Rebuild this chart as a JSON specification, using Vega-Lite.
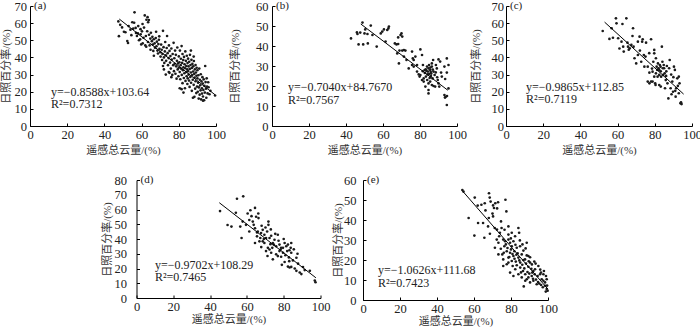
{
  "$schema": "https://vega.github.io/schema/vega-lite/v6.json",
  "padding": {"left": 0, "top": 0, "right": 0, "bottom": 0},
  "background": "white",
  "config": {
    "view": {"stroke": null},
    "axis": {
      "grid": false,
      "domainColor": "#000",
      "domainWidth": 1,
      "tickColor": "#000",
      "tickSize": -3,
      "labelPadding": 5,
      "labelOverlap": false,
      "labelFlush": false,
      "tickCount": 20,
      "labelFont": "Liberation Serif",
      "labelFontSize": 12.5,
      "labelColor": "#222",
      "titleFont": "Liberation Serif, Noto Sans CJK SC",
      "titleFontSize": 11,
      "titleFontWeight": "normal",
      "titleColor": "#333"
    }
  },
  "datasets": {
    "a": [
      {"x":47.5,"y":61},{"x":47.8,"y":52.4},{"x":48.5,"y":59},{"x":49.5,"y":57.5},{"x":50.5,"y":55},{"x":51.3,"y":54.7},{"x":52.3,"y":49.6},{"x":52.7,"y":48.4},{"x":53,"y":58.3},{"x":54,"y":56.2},{"x":54.5,"y":53},{"x":55,"y":60.5},
      {"x":55.5,"y":56.8},{"x":56.2,"y":66.3},{"x":56,"y":60.2},{"x":56.8,"y":57.2},{"x":57,"y":54.3},{"x":57.5,"y":52.5},{"x":58,"y":54},{"x":58.2,"y":58.3},{"x":58.6,"y":50},{"x":59.2,"y":50.6},{"x":59.4,"y":56.5},{"x":59.8,"y":47.6},{"x":59.5,"y":53.5},
      {"x":60.2,"y":55.2},{"x":60.5,"y":59.5},{"x":60.6,"y":48.2},{"x":61,"y":51.5},{"x":61.3,"y":57.4},{"x":61.7,"y":64.5},{"x":62,"y":47},{"x":62.3,"y":52.5},{"x":62.6,"y":62},{"x":63.2,"y":63.5},{"x":63.5,"y":60.5},{"x":63.9,"y":61.8},{"x":63,"y":55.3},{"x":63.4,"y":49},{"x":64,"y":53.2},{"x":64.3,"y":47},{"x":64.7,"y":51},{"x":65,"y":54.4},{"x":64.8,"y":44.5},{"x":62.5,"y":46.2},
      {"x":65.5,"y":49.5},{"x":65.8,"y":52},{"x":66,"y":47.5},{"x":66.3,"y":43.8},{"x":66.5,"y":50.6},{"x":67,"y":48.2},{"x":67.2,"y":45.7},{"x":67.6,"y":51.3},{"x":68,"y":46.5},{"x":68.2,"y":49.2},{"x":68.5,"y":44},{"x":68.8,"y":42.3},{"x":69,"y":47.8},{"x":69.3,"y":50.3},{"x":69.6,"y":45},{"x":70,"y":43},{"x":70.2,"y":40.5},{"x":66.6,"y":41},{"x":67.8,"y":55},{"x":69.5,"y":52.3},
      {"x":70.5,"y":47.5},{"x":70.8,"y":44.5},{"x":71,"y":38.5},{"x":71.2,"y":42},{"x":71.5,"y":55.5},{"x":71.8,"y":46},{"x":72,"y":40},{"x":72.2,"y":36.8},{"x":72.5,"y":43.5},{"x":72.7,"y":49},{"x":73,"y":41.2},{"x":73.2,"y":38},{"x":73.5,"y":45.5},{"x":73.7,"y":52.5},{"x":74,"y":42.5},{"x":74.2,"y":35.5},{"x":74.5,"y":39.6},{"x":74.7,"y":47},{"x":75,"y":43.8},{"x":72,"y":33},{"x":73,"y":30},{"x":74.6,"y":31.5},{"x":71.5,"y":35},
      {"x":75.3,"y":37},{"x":75.5,"y":40.8},{"x":75.7,"y":33.5},{"x":76,"y":45.2},{"x":76.2,"y":38.7},{"x":76.5,"y":29.8},{"x":76.7,"y":42},{"x":77,"y":35.5},{"x":77.2,"y":48.5},{"x":77.4,"y":32},{"x":77.6,"y":39.5},{"x":77.8,"y":36.3},{"x":78,"y":44},{"x":78.2,"y":30.5},{"x":78.4,"y":41.5},{"x":78.6,"y":34.8},{"x":78.8,"y":27.6},{"x":79,"y":38},{"x":79.2,"y":45.8},{"x":79.4,"y":33},{"x":79.6,"y":36.5},{"x":79.8,"y":29},{"x":80,"y":40.6},{"x":80,"y":34},{"x":76,"y":28.5},{"x":75,"y":31},
      {"x":80.3,"y":37.2},{"x":80.5,"y":31.5},{"x":80.6,"y":44},{"x":80.8,"y":27.3},{"x":81,"y":35.5},{"x":81.1,"y":39.2},{"x":81.3,"y":33.4},{"x":81.5,"y":46.6},{"x":81.6,"y":29.8},{"x":81.8,"y":36.8},{"x":82,"y":25},{"x":82,"y":42},{"x":82.2,"y":32.5},{"x":82.4,"y":38.5},{"x":82.5,"y":34.3},{"x":82.7,"y":28},{"x":82.8,"y":40.3},{"x":83,"y":30.8},{"x":83.1,"y":36},{"x":83.3,"y":22},{"x":83.4,"y":33.7},{"x":83.5,"y":43.5},{"x":83.6,"y":26.3},{"x":83.8,"y":38},{"x":84,"y":31.5},{"x":84,"y":35},{"x":84.2,"y":29},{"x":84.3,"y":41},{"x":84.5,"y":33},{"x":84.6,"y":24.5},{"x":84.7,"y":36.7},{"x":84.8,"y":27.8},{"x":85,"y":39.3},{"x":85,"y":32},{"x":80.5,"y":22},{"x":81.5,"y":21.5},{"x":82.5,"y":19.5},
      {"x":85.2,"y":34.8},{"x":85.3,"y":30},{"x":85.5,"y":26.5},{"x":85.6,"y":37.5},{"x":85.8,"y":22.8},{"x":85.9,"y":33.3},{"x":86,"y":41.5},{"x":86.2,"y":28.6},{"x":86.3,"y":35.6},{"x":86.5,"y":31.2},{"x":86.6,"y":25.2},{"x":86.8,"y":38.6},{"x":87,"y":33.9},{"x":87,"y":20.5},{"x":87.2,"y":29.7},{"x":87.3,"y":36.2},{"x":87.5,"y":27},{"x":87.6,"y":16.5},{"x":87.7,"y":31.8},{"x":87.8,"y":34.8},{"x":88,"y":24},{"x":88.1,"y":37.9},{"x":88.3,"y":30.4},{"x":88.4,"y":17},{"x":88.5,"y":28.2},{"x":88.6,"y":33},{"x":88.8,"y":21.8},{"x":89,"y":35.6},{"x":89,"y":26.1},{"x":89.2,"y":31.2},{"x":89.4,"y":19.2},{"x":89.5,"y":29.3},{"x":89.6,"y":34},{"x":89.8,"y":23},{"x":90,"y":27.8},{"x":90,"y":32.5},{"x":86.5,"y":44},{"x":88,"y":40.5},
      {"x":90.2,"y":20},{"x":90.4,"y":25.3},{"x":90.5,"y":29.6},{"x":90.7,"y":16},{"x":90.8,"y":22.5},{"x":91,"y":33.5},{"x":91.2,"y":18.3},{"x":91.3,"y":27},{"x":91.5,"y":23.8},{"x":91.7,"y":20.8},{"x":91.8,"y":30.2},{"x":92,"y":15.5},{"x":92.2,"y":26},{"x":92.4,"y":22},{"x":92.5,"y":18.9},{"x":92.7,"y":28.5},{"x":92.9,"y":24.8},{"x":93,"y":17.2},{"x":93.2,"y":21},{"x":93.4,"y":27.2},{"x":93.6,"y":15},{"x":93.8,"y":23.4},{"x":94,"y":19.5},{"x":94.2,"y":35},{"x":94.4,"y":25.6},{"x":94.6,"y":21.7},{"x":94.8,"y":16.5},{"x":95,"y":27.8},{"x":95.2,"y":23},{"x":95.5,"y":19},{"x":96,"y":22.6},{"x":96.5,"y":18.5},{"x":97,"y":20.5},{"x":99.5,"y":17.8},{"x":95.8,"y":25.5},{"x":93,"y":14.8}
    ],
    "b": [
      {"x":42.7,"y":43.8},{"x":45.9,"y":46.8},{"x":46.2,"y":46},{"x":46.8,"y":40.8},{"x":47.7,"y":46.7},{"x":48.9,"y":51.7},{"x":49.3,"y":40.8},{"x":50,"y":46.3},{"x":50.4,"y":48.3},{"x":51.6,"y":46},{"x":51.8,"y":41.3},{"x":53.4,"y":50.2},{"x":54.3,"y":45.5},{"x":56.6,"y":39.7},{"x":58.8,"y":46.3},{"x":59.6,"y":47.2},{"x":60.5,"y":48.3},{"x":61.4,"y":42.2},{"x":62.9,"y":48.8},{"x":63.2,"y":49.7},{"x":62.3,"y":48},
      {"x":68.2,"y":44.3},{"x":69.5,"y":45.5},{"x":70,"y":46.3},{"x":70.4,"y":44.7},{"x":66.4,"y":41.3},{"x":67.3,"y":40.8},{"x":68.2,"y":41},{"x":68.9,"y":37.7},{"x":70.4,"y":37.7},{"x":71.3,"y":38},{"x":72.1,"y":37.7},{"x":67.7,"y":36.3},{"x":68.6,"y":31.3},{"x":71.3,"y":34.7},{"x":72.7,"y":33},{"x":73.9,"y":28.8},{"x":75.7,"y":37.2},{"x":76.1,"y":33.8},{"x":76.6,"y":33},{"x":77.5,"y":34.7},{"x":78.4,"y":30.5},{"x":79.3,"y":25.8},{"x":80.2,"y":38.3},{"x":81.1,"y":35.5},{"x":81.6,"y":30.5},{"x":82,"y":23.8},{"x":82.5,"y":28},
      {"x":83.8,"y":29.7},{"x":84.3,"y":27.2},{"x":84.6,"y":28.8},{"x":85,"y":26},{"x":85.5,"y":28},{"x":85.9,"y":25},{"x":86.4,"y":29.7},{"x":83.2,"y":24.7},{"x":83.9,"y":23},{"x":84.6,"y":21.3},{"x":85.5,"y":22.2},{"x":86.8,"y":23.8},{"x":87.3,"y":27.2},{"x":87.9,"y":25.5},{"x":86.4,"y":31.3},{"x":87.1,"y":33},{"x":88.6,"y":30.5},{"x":89.1,"y":28.8},{"x":89.6,"y":23},{"x":90,"y":21.3},{"x":90.4,"y":19.7},{"x":90.9,"y":32.2},{"x":91.4,"y":26.7},{"x":91.8,"y":24.7},{"x":93.2,"y":29.7},{"x":94.5,"y":26.7},{"x":95.4,"y":30.5},
      {"x":84.6,"y":18},{"x":84.6,"y":16.3},{"x":86.4,"y":20.5},{"x":87.3,"y":20},{"x":88.2,"y":19.7},{"x":90,"y":33.3},{"x":94.5,"y":33.8},{"x":93.2,"y":15.5},{"x":93.8,"y":14.5},{"x":94.6,"y":15},{"x":93.5,"y":14.2},{"x":94.5,"y":10.5},{"x":95.4,"y":18.8},{"x":93.6,"y":23.5},
      {"x":75.7,"y":30.5},{"x":76.6,"y":29.7},{"x":78.4,"y":27.2},{"x":80.2,"y":25.5},{"x":81.1,"y":23},{"x":82,"y":22.2},{"x":82.9,"y":19.7},{"x":79.8,"y":24.7},
      {"x":83.5,"y":27.5},{"x":84.1,"y":25.8},{"x":85.2,"y":24},{"x":85.8,"y":27},{"x":86.1,"y":26.2},{"x":84.9,"y":30.5},{"x":83.1,"y":28.3},{"x":82.6,"y":26.5},{"x":85.6,"y":29.2},{"x":86.9,"y":28.2},{"x":88.5,"y":26.8},{"x":89.3,"y":24.4},{"x":81.5,"y":27.4}
    ],
    "c": [
      {"x":52,"y":55.4},{"x":55.6,"y":50.8},{"x":56.8,"y":57},{"x":59.1,"y":62.8},{"x":59.4,"y":59.9},{"x":60.3,"y":51.2},{"x":62.1,"y":49.2},{"x":62.6,"y":59.5},{"x":63,"y":46.3},{"x":63.3,"y":43.4},{"x":64.7,"y":62.8},{"x":65.3,"y":48.6},{"x":65.6,"y":46.3},{"x":66.5,"y":45.3},{"x":67.4,"y":47.3},{"x":68,"y":52.5},{"x":68.3,"y":57},{"x":68.6,"y":46.3},{"x":69.1,"y":39.5},{"x":70.9,"y":49.2},{"x":70.9,"y":41.4},{"x":71.8,"y":52.1},{"x":72.7,"y":37.5},{"x":73.2,"y":49.2},{"x":73.5,"y":50.6},{"x":74.1,"y":41.4},{"x":74.4,"y":34.6},{"x":75.3,"y":48.6},{"x":76.2,"y":34.6},{"x":77.1,"y":31.1},{"x":78,"y":50.6},{"x":78.5,"y":33.5},{"x":78.8,"y":25.9},{"x":79.2,"y":37.5},{"x":79.7,"y":44.4},{"x":79.7,"y":42.4},{"x":80.2,"y":24.9},{"x":80.6,"y":39.5},{"x":81,"y":34.6},{"x":81.5,"y":28.8},{"x":82,"y":33.7},{"x":82.4,"y":32.7},{"x":82.7,"y":35.6},{"x":83.2,"y":31.9},{"x":83.8,"y":46.3},{"x":84.1,"y":37.5},{"x":84.5,"y":29.8},{"x":85,"y":33.7},{"x":85.5,"y":22},{"x":85.9,"y":26.8},{"x":86.2,"y":31.9},{"x":86.8,"y":24.9},{"x":87.3,"y":16.1},{"x":87.7,"y":33.7},{"x":88,"y":38.5},{"x":88.5,"y":22},{"x":89.4,"y":25.9},{"x":89.8,"y":20},{"x":90.3,"y":34.6},{"x":90.8,"y":32.7},{"x":91.2,"y":17.1},{"x":92.1,"y":27.8},{"x":92.9,"y":19.1},{"x":93.8,"y":13.2},{"x":94.4,"y":12.8},{"x":94.1,"y":13.8},
      {"x":80.6,"y":30.7},{"x":81.3,"y":32.7},{"x":81.7,"y":36.5},{"x":82.4,"y":29.8},{"x":83.1,"y":34.6},{"x":83.4,"y":28.8},{"x":84.3,"y":33.7},{"x":84.8,"y":35.6},{"x":85.3,"y":30.7},{"x":86.1,"y":29.2},{"x":80.4,"y":23.9},{"x":79.7,"y":28.8},{"x":78.8,"y":31.7},{"x":76.2,"y":25.9},{"x":77.1,"y":24.9},{"x":78,"y":25.9},{"x":91.5,"y":22},{"x":92.4,"y":23.4},{"x":93.3,"y":24.9},{"x":92.9,"y":28.8},{"x":82.4,"y":23.9},{"x":83.2,"y":23},{"x":66,"y":44.5},{"x":70,"y":36.5},{"x":72,"y":44},{"x":75,"y":40.5},{"x":77,"y":42.5},{"x":61,"y":45.2},{"x":57.5,"y":51.5},{"x":86.5,"y":35},{"x":88.8,"y":30},{"x":90,"y":28.5},{"x":91,"y":20.5},{"x":89,"y":18.5}
    ],
    "d": [
      {"x":45.4,"y":58.9},{"x":54.6,"y":67.3},{"x":58,"y":68.9},{"x":54,"y":57.8},{"x":49.5,"y":49.5},{"x":51.6,"y":48.4},{"x":57.7,"y":51.8},{"x":57.1,"y":40.7},{"x":60.4,"y":57.3},{"x":61.9,"y":59.5},{"x":64.4,"y":61.1},{"x":65,"y":55.1},{"x":66.2,"y":57.3},{"x":63.2,"y":51.8},{"x":63.7,"y":49.6},{"x":64.4,"y":47.3},{"x":61.3,"y":45.1},{"x":65.9,"y":45.1},{"x":67.7,"y":44},{"x":68.6,"y":46.2},{"x":65.5,"y":41.8},{"x":66.8,"y":38.4},{"x":64.4,"y":37.3},{"x":69.5,"y":42.9},{"x":71.7,"y":51.8},{"x":71.7,"y":49.6},{"x":70.4,"y":40.7},{"x":72.3,"y":40.7},{"x":73.2,"y":42.2},{"x":74.1,"y":37.3},{"x":74.6,"y":36.2},{"x":71.4,"y":34},{"x":70.4,"y":31.8},{"x":72.3,"y":32.9},{"x":76.8,"y":42.9},{"x":75.9,"y":35.1},{"x":77.7,"y":36.2},{"x":78.3,"y":32.9},{"x":78.6,"y":34},{"x":79.6,"y":30.7},{"x":80.5,"y":37.3},{"x":81.4,"y":35.1},{"x":82.3,"y":36.2},{"x":81.9,"y":31.8},{"x":83.1,"y":32.4},{"x":83.8,"y":34},{"x":84.1,"y":37.3},{"x":84.1,"y":30.7},{"x":86.9,"y":27.3},{"x":80.5,"y":24.4},{"x":82.3,"y":21.3},{"x":83.2,"y":20.7},{"x":84.1,"y":21.1},{"x":86,"y":20},{"x":86.9,"y":18.4},{"x":88.7,"y":17.3},{"x":89.6,"y":16.2},{"x":94.2,"y":18.4},{"x":96.9,"y":11.8},{"x":97.3,"y":10.7},{"x":74.1,"y":26.2},{"x":75.9,"y":29.6},{"x":76.8,"y":28.4},{"x":77.7,"y":31.8},{"x":78.6,"y":28},{"x":73.2,"y":30.7},{"x":69.5,"y":37.3},{"x":68.6,"y":38.4},{"x":67.3,"y":40.7},{"x":65.5,"y":44.4},
      {"x":59.5,"y":49.6},{"x":56.4,"y":48.4},{"x":61.3,"y":52.9},{"x":71,"y":45.1},{"x":75,"y":39.5},{"x":79.6,"y":34},{"x":80.9,"y":29},{"x":85,"y":25.5},{"x":87.8,"y":23.3},{"x":90.5,"y":21},{"x":91.4,"y":18.9},{"x":66.3,"y":54.2},{"x":62.5,"y":55.5},{"x":68,"y":49},{"x":70.1,"y":47.8},{"x":73,"y":46.5},{"x":75.4,"y":43.5},{"x":72.8,"y":36.5},{"x":77.2,"y":38.8},{"x":80,"y":40},{"x":82.8,"y":27.5},{"x":85.5,"y":33},{"x":87.5,"y":30},{"x":83,"y":25},{"x":79,"y":22.5},{"x":71.2,"y":28.5},{"x":67.8,"y":34.5},{"x":69.2,"y":40},{"x":73.8,"y":34}
    ],
    "e": [
      {"x":53.7,"y":55},{"x":54.3,"y":54.2},{"x":60.4,"y":51.2},{"x":64,"y":47.6},{"x":65.8,"y":48.4},{"x":68.1,"y":53.4},{"x":68.5,"y":51.2},{"x":69,"y":49.2},{"x":70.3,"y":47.3},{"x":70.8,"y":46},{"x":71.5,"y":48.4},{"x":73,"y":48.9},{"x":77,"y":50.1},{"x":77.5,"y":44.3},{"x":57.1,"y":41},{"x":62.2,"y":38.5},{"x":64.9,"y":38.5},{"x":67.6,"y":36.8},{"x":68,"y":41},{"x":70.3,"y":41.8},{"x":71.2,"y":36},{"x":60.2,"y":32.2},{"x":65.6,"y":31.1},{"x":68.6,"y":33.1},{"x":73.6,"y":31.9},{"x":74,"y":33.6},{"x":74.9,"y":36},{"x":75.8,"y":30.2},{"x":76.4,"y":26.9},{"x":74.6,"y":39.3},{"x":78.6,"y":36.8},{"x":78.6,"y":32.7},{"x":80.4,"y":33.6},{"x":84,"y":36},{"x":84.4,"y":33.6},{"x":88.5,"y":28.6},{"x":80.4,"y":26.9},{"x":77.7,"y":24.4},{"x":79.5,"y":23.6},{"x":81.8,"y":24.4},{"x":83.1,"y":26.1},{"x":84.9,"y":26.9},{"x":75.3,"y":22.8},{"x":75.8,"y":20.3},{"x":78.6,"y":21.2},{"x":81.3,"y":22},{"x":82.6,"y":19.2},{"x":84,"y":21.2},{"x":85.8,"y":22.8},{"x":87.6,"y":20.3},{"x":89.4,"y":22},{"x":90.3,"y":18.7},{"x":92.6,"y":19.2},{"x":93.3,"y":18.2},{"x":80.9,"y":17},{"x":82.3,"y":15.4},{"x":85,"y":16.2},{"x":86.5,"y":14.5},{"x":87.7,"y":12.9},{"x":79.5,"y":13.7},{"x":81.3,"y":12},{"x":84,"y":12.9},{"x":85.8,"y":11.3},{"x":88.5,"y":10.4},{"x":91.2,"y":12},{"x":92.1,"y":14.5},{"x":93,"y":15.4},{"x":94.8,"y":17},{"x":95.7,"y":12.9},{"x":96.6,"y":10.4},{"x":97.5,"y":9.6},{"x":98.4,"y":8.8},{"x":99.3,"y":10.4},{"x":98.4,"y":7.1},{"x":99.3,"y":5.5},{"x":99.8,"y":4.6},{"x":93.9,"y":7.9},{"x":90.3,"y":8.8},{"x":89.4,"y":11.3},{"x":92.1,"y":9.6},{"x":87.7,"y":9.6},{"x":86.9,"y":6.8},
      {"x":78.6,"y":30.2},{"x":79.5,"y":28.6},{"x":76.8,"y":29.4},{"x":73.2,"y":28.6},{"x":72.3,"y":30.2},{"x":81.3,"y":29.4},{"x":82.2,"y":31.9},{"x":73.2,"y":22.8},{"x":71.3,"y":26.1},{"x":75.8,"y":17},{"x":77.7,"y":17.9},{"x":80,"y":25.3},{"x":83.6,"y":23.4},{"x":86.7,"y":24.7},{"x":88.5,"y":22.3},{"x":90.3,"y":21.4},{"x":85,"y":18.7},{"x":83.1,"y":17.4},{"x":86.7,"y":20},{"x":89.4,"y":16.6},{"x":91.5,"y":13.7},{"x":94.4,"y":12},{"x":96.2,"y":13.7},{"x":97.5,"y":12.9},{"x":98.9,"y":12},{"x":92.8,"y":12.9},{"x":80.4,"y":19.5},{"x":78.6,"y":18.7},
      {"x":77.2,"y":27.8},{"x":78.1,"y":26},{"x":79.1,"y":21.5},{"x":80.8,"y":23},{"x":81.9,"y":20.6},{"x":82.9,"y":22.6},{"x":84.5,"y":19.8},{"x":85.4,"y":13.8},{"x":86.1,"y":17.6},{"x":87.2,"y":15.8},{"x":88.1,"y":18.2},{"x":88.9,"y":14},{"x":89.9,"y":13.2},{"x":91,"y":15.6},{"x":91.9,"y":10.6},{"x":93.5,"y":10.2},{"x":94.6,"y":9},{"x":95.3,"y":8.2},{"x":96.3,"y":7.5},{"x":97.2,"y":6.4},{"x":98.8,"y":4.2},{"x":99.5,"y":7.2},{"x":95.8,"y":15.2},{"x":97.8,"y":14.5},{"x":74.5,"y":25.6},{"x":76.1,"y":23.6},{"x":82.4,"y":27.6},{"x":84.8,"y":29.8},{"x":86.2,"y":27.8},{"x":87.9,"y":25.8},{"x":89.6,"y":19.4},{"x":91.3,"y":17.8},{"x":72.4,"y":35.2},{"x":76.5,"y":35.1},{"x":79.9,"y":30.8},{"x":70,"y":43.2},{"x":66.2,"y":44.8},{"x":72.5,"y":45.8},{"x":62,"y":47.2}
    ]
  },
  "vconcat": [
    {
      "spacing": 3,
      "hconcat": [
        {
          "width": 186, "height": 120,
          "layer": [
            {"data": {"name": "a"}, "mark": {"type": "circle", "size": 7, "color": "#1a1a1a", "opacity": 1},
             "encoding": {
               "x": {"field": "x", "type": "quantitative", "scale": {"domain": [0, 100], "nice": false}, "axis": {"title": "遥感总云量/(%)", "values": [0, 20, 40, 60, 80, 100], "tickCount": 20, "titlePadding": 4, "labelOverlap": false, "labelFlush": false}},
               "y": {"field": "y", "type": "quantitative", "scale": {"domain": [0, 70], "nice": false}, "axis": {"title": "日照百分率/(%)", "values": [0, 10, 20, 30, 40, 50, 60, 70], "tickCount": 20, "labelPadding": 6.5, "titlePadding": 2.5, "labelOverlap": false, "labelFlush": false}}}},
            {"data": {"values": [{"x": 48, "y": 62.4}, {"x": 99.5, "y": 18.2}]}, "mark": {"type": "line", "color": "#000", "strokeWidth": 1},
             "encoding": {"x": {"field": "x", "type": "quantitative"}, "y": {"field": "y", "type": "quantitative"}}},
            {"data": {"values": [{"t": "y=−0.8588x+103.64\nR²=0.7312"}]}, "mark": {"type": "text", "align": "left", "baseline": "top", "lineBreak": "\n", "lineHeight": 12.5, "font": "Liberation Serif", "fontSize": 12, "color": "#222"},
             "encoding": {"x": {"datum": 11.3}, "y": {"datum": 22.8}, "text": {"field": "t"}}},
            {"data": {"values": [{"t": "(a)"}]}, "mark": {"type": "text", "align": "left", "baseline": "middle", "dx": 4, "font": "Liberation Serif", "fontSize": 11, "color": "#222"},
             "encoding": {"x": {"datum": 0}, "y": {"datum": 70}, "text": {"field": "t"}}}
          ]
        },
        {
          "width": 185, "height": 120,
          "layer": [
            {"data": {"name": "b"}, "mark": {"type": "circle", "size": 7, "color": "#1a1a1a", "opacity": 1},
             "encoding": {
               "x": {"field": "x", "type": "quantitative", "scale": {"domain": [0, 100], "nice": false}, "axis": {"title": "遥感总云量/(%)", "values": [0, 20, 40, 60, 80, 100], "tickCount": 20, "titlePadding": 4, "labelOverlap": false, "labelFlush": false}},
               "y": {"field": "y", "type": "quantitative", "scale": {"domain": [0, 60], "nice": false}, "axis": {"title": "日照百分率/(%)", "values": [0, 10, 20, 30, 40, 50, 60], "tickCount": 20, "labelPadding": 7, "titlePadding": 15, "labelOverlap": false, "labelFlush": false}}}},
            {"data": {"values": [{"x": 48, "y": 51.0}, {"x": 95, "y": 17.9}]}, "mark": {"type": "line", "color": "#000", "strokeWidth": 1},
             "encoding": {"x": {"field": "x", "type": "quantitative"}, "y": {"field": "y", "type": "quantitative"}}},
            {"data": {"values": [{"t": "y=−0.7040x+84.7670\nR²=0.7567"}]}, "mark": {"type": "text", "align": "left", "baseline": "top", "lineBreak": "\n", "lineHeight": 12.5, "font": "Liberation Serif", "fontSize": 12, "color": "#222"},
             "encoding": {"x": {"datum": 8.6}, "y": {"datum": 22}, "text": {"field": "t"}}},
            {"data": {"values": [{"t": "(b)"}]}, "mark": {"type": "text", "align": "left", "baseline": "middle", "dx": 4, "font": "Liberation Serif", "fontSize": 11, "color": "#222"},
             "encoding": {"x": {"datum": 0}, "y": {"datum": 60}, "text": {"field": "t"}}}
          ]
        },
        {
          "width": 186, "height": 120,
          "layer": [
            {"data": {"name": "c"}, "mark": {"type": "circle", "size": 7, "color": "#1a1a1a", "opacity": 1},
             "encoding": {
               "x": {"field": "x", "type": "quantitative", "scale": {"domain": [0, 100], "nice": false}, "axis": {"title": "遥感总云量/(%)", "values": [0, 20, 40, 60, 80, 100], "tickCount": 20, "titlePadding": 4, "labelOverlap": false, "labelFlush": false}},
               "y": {"field": "y", "type": "quantitative", "scale": {"domain": [0, 70], "nice": false}, "axis": {"title": "日照百分率/(%)", "values": [0, 10, 20, 30, 40, 50, 60, 70], "tickCount": 20, "labelPadding": 5.5, "titlePadding": 10, "labelOverlap": false, "labelFlush": false}}}},
            {"data": {"values": [{"x": 53, "y": 60.6}, {"x": 95.5, "y": 18.6}]}, "mark": {"type": "line", "color": "#000", "strokeWidth": 1},
             "encoding": {"x": {"field": "x", "type": "quantitative"}, "y": {"field": "y", "type": "quantitative"}}},
            {"data": {"values": [{"t": "y=−0.9865x+112.85\nR²=0.7119"}]}, "mark": {"type": "text", "align": "left", "baseline": "top", "lineBreak": "\n", "lineHeight": 12.5, "font": "Liberation Serif", "fontSize": 12, "color": "#222"},
             "encoding": {"x": {"datum": 10.8}, "y": {"datum": 25.7}, "text": {"field": "t"}}},
            {"data": {"values": [{"t": "(c)"}]}, "mark": {"type": "text", "align": "left", "baseline": "middle", "dx": 4, "font": "Liberation Serif", "fontSize": 11, "color": "#222"},
             "encoding": {"x": {"datum": 0}, "y": {"datum": 70}, "text": {"field": "t"}}}
          ]
        }
      ]
    },
    {
      "spacing": 1.5,
      "hconcat": [
        {
          "width": 68.5, "height": 120,
          "data": {"values": []},
          "mark": {"type": "point", "opacity": 0}
        },
        {
          "width": 184, "height": 118,
          "layer": [
            {"data": {"name": "d"}, "mark": {"type": "circle", "size": 7, "color": "#1a1a1a", "opacity": 1},
             "encoding": {
               "x": {"field": "x", "type": "quantitative", "scale": {"domain": [0, 100], "nice": false}, "axis": {"title": "遥感总云量/(%)", "values": [0, 20, 40, 60, 80, 100], "tickCount": 20, "titlePadding": 1, "labelOverlap": false, "labelFlush": false}},
               "y": {"field": "y", "type": "quantitative", "scale": {"domain": [0, 80], "nice": false}, "axis": {"title": "日照百分率/(%)", "values": [0, 10, 20, 30, 40, 50, 60, 70, 80], "tickCount": 20, "labelPadding": 13, "titlePadding": 2, "labelOverlap": false, "labelFlush": false}}}},
            {"data": {"values": [{"x": 45, "y": 64.6}, {"x": 97.5, "y": 13.7}]}, "mark": {"type": "line", "color": "#000", "strokeWidth": 1},
             "encoding": {"x": {"field": "x", "type": "quantitative"}, "y": {"field": "y", "type": "quantitative"}}},
            {"data": {"values": [{"t": "y=−0.9702x+108.29\nR²=0.7465"}]}, "mark": {"type": "text", "align": "left", "baseline": "top", "lineBreak": "\n", "lineHeight": 12.5, "font": "Liberation Serif", "fontSize": 12, "color": "#222"},
             "encoding": {"x": {"datum": 10}, "y": {"datum": 26}, "text": {"field": "t"}}},
            {"data": {"values": [{"t": "(d)"}]}, "mark": {"type": "text", "align": "left", "baseline": "middle", "dx": 4, "font": "Liberation Serif", "fontSize": 11, "color": "#222"},
             "encoding": {"x": {"datum": 0}, "y": {"datum": 80}, "text": {"field": "t"}}}
          ]
        },
        {
          "width": 185, "height": 120,
          "layer": [
            {"data": {"name": "e"}, "mark": {"type": "circle", "size": 7, "color": "#1a1a1a", "opacity": 1},
             "encoding": {
               "x": {"field": "x", "type": "quantitative", "scale": {"domain": [0, 100], "nice": false}, "axis": {"title": "遥感总云量/(%)", "values": [0, 20, 40, 60, 80, 100], "tickCount": 20, "titlePadding": 1, "labelOverlap": false, "labelFlush": false}},
               "y": {"field": "y", "type": "quantitative", "scale": {"domain": [0, 60], "nice": false}, "axis": {"title": "日照百分率/(%)", "values": [0, 10, 20, 30, 40, 50, 60], "tickCount": 20, "labelPadding": 10, "titlePadding": 0.5, "labelOverlap": false, "labelFlush": false}}}},
            {"data": {"values": [{"x": 54, "y": 54.3}, {"x": 100, "y": 5.4}]}, "mark": {"type": "line", "color": "#000", "strokeWidth": 1},
             "encoding": {"x": {"field": "x", "type": "quantitative"}, "y": {"field": "y", "type": "quantitative"}}},
            {"data": {"values": [{"t": "y=−1.0626x+111.68\nR²=0.7423"}]}, "mark": {"type": "text", "align": "left", "baseline": "top", "lineBreak": "\n", "lineHeight": 12.5, "font": "Liberation Serif", "fontSize": 12, "color": "#222"},
             "encoding": {"x": {"datum": 8.1}, "y": {"datum": 17.5}, "text": {"field": "t"}}},
            {"data": {"values": [{"t": "(e)"}]}, "mark": {"type": "text", "align": "left", "baseline": "middle", "dx": 4, "font": "Liberation Serif", "fontSize": 11, "color": "#222"},
             "encoding": {"x": {"datum": 0}, "y": {"datum": 60}, "text": {"field": "t"}}}
          ]
        }
      ]
    }
  ],
  "spacing": 18
}
